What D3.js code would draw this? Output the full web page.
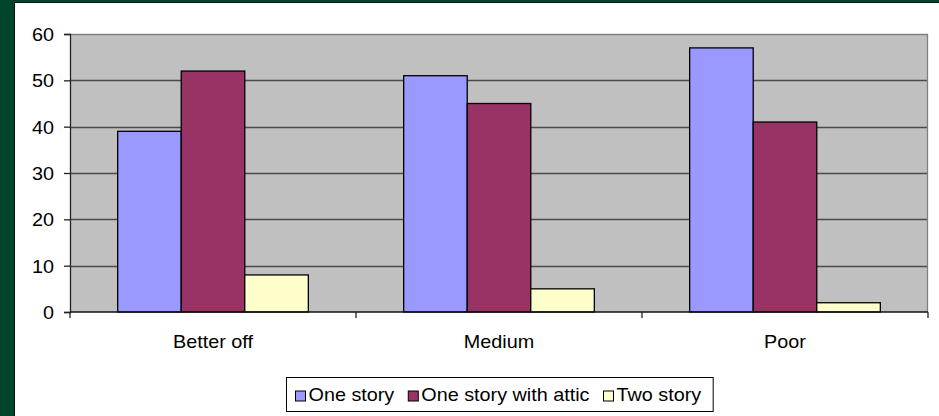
<!DOCTYPE html>
<html>
<head>
<meta charset="utf-8">
<script src="https://cdn.jsdelivr.net/npm/d3@7"></script>
<style>
html, body { margin: 0; padding: 0; background: #00442c; }
svg { display: block; }
text { font-family: "Liberation Sans", Arial, sans-serif; fill: #000; }
</style>
</head>
<body>
<svg id="chart" width="939" height="416"></svg>
<script>
const categories = ["Better off", "Medium", "Poor"];
const seriesNames = ["One story", "One story with attic", "Two story"];
const oneStory = [39, 51, 57];
const oneStoryAttic = [52, 45, 41];
const twoStory = [8, 5, 2];
const yTicks = [0, 10, 20, 30, 40, 50, 60];
const seriesColors = ["#9999ff", "#993366", "#ffffcc"];

const seriesValues = [oneStory, oneStoryAttic, twoStory];
const data = categories.map((c, i) => ({
  category: c,
  values: seriesNames.map((s, j) => ({ series: s, value: seriesValues[j][i] }))
}));

const W = 939, H = 416;
const FS = 18, SX = 1.1;
const plot = { left: 70, right: 928, top: 34, bottom: 312 };

const svg = d3.select("#chart");

// outer green + white card
svg.append("rect").attr("x", 0).attr("y", 0).attr("width", W).attr("height", H).attr("fill", "#00442c");
svg.append("rect").attr("x", 14.5).attr("y", 2.5).attr("width", W).attr("height", H)
  .attr("fill", "#ffffff").attr("stroke", "#001a10").attr("stroke-width", 1);

const x = d3.scaleBand().domain(categories).range([plot.left, plot.right]).paddingInner(0).paddingOuter(0);
const xs = d3.scaleBand().domain(seriesNames).range([0, x.bandwidth()]).paddingInner(0).paddingOuter(0.75);
const y = d3.scaleLinear().domain([0, 60]).range([plot.bottom, plot.top]);
const color = d3.scaleOrdinal().domain(seriesNames).range(seriesColors);

// plot background
svg.append("rect")
  .attr("x", plot.left).attr("y", plot.top)
  .attr("width", plot.right - plot.left).attr("height", plot.bottom - plot.top)
  .attr("fill", "#c0c0c0");

// gridlines
svg.append("g").selectAll("line")
  .data(yTicks.filter(t => t > 0 && t < 60))
  .join("line")
  .attr("x1", plot.left).attr("x2", plot.right)
  .attr("y1", d => Math.round(y(d)) + 0.5).attr("y2", d => Math.round(y(d)) + 0.5)
  .attr("stroke", "#4a4a4a").attr("stroke-width", 1.3);

// plot border top/right
svg.append("path")
  .attr("d", `M${plot.left},${plot.top + 0.5}H${plot.right - 0.5}V${plot.bottom}`)
  .attr("fill", "none").attr("stroke", "#808080").attr("stroke-width", 1.3);

// bars
const groups = svg.append("g").selectAll("g")
  .data(data).join("g")
  .attr("transform", d => `translate(${x(d.category)},0)`);
groups.selectAll("rect")
  .data(d => d.values).join("rect")
  .attr("x", d => xs(d.series))
  .attr("y", d => y(d.value))
  .attr("width", xs.bandwidth())
  .attr("height", d => y(0) - y(d.value))
  .attr("fill", d => color(d.series))
  .attr("stroke", "#000").attr("stroke-width", 1.3);

// y axis
const yAxis = svg.append("g")
  .attr("transform", `translate(${plot.left},0)`)
  .call(d3.axisLeft(y).tickValues(yTicks).tickSize(6).tickFormat(d3.format("d")));
yAxis.select(".domain").attr("stroke", "#222").attr("stroke-width", 1.3);
yAxis.selectAll(".tick line").attr("stroke", "#222").attr("stroke-width", 1.3);
yAxis.selectAll(".tick text")
  .attr("x", -14.5).attr("dy", "0.36em")
  .attr("transform", `scale(${SX},1)`)
  .style("font-size", FS + "px").style("font-family", '"Liberation Sans", Arial, sans-serif').attr("fill", "#000");

// x axis (ticks at category boundaries)
const xg = svg.append("g");
xg.append("line")
  .attr("x1", plot.left).attr("x2", plot.right)
  .attr("y1", y(0)).attr("y2", y(0))
  .attr("stroke", "#111").attr("stroke-width", 1.5);
const boundaries = categories.map(c => x(c)).concat([x(categories[categories.length - 1]) + x.bandwidth()]);
xg.selectAll("line.tick").data(boundaries).join("line")
  .attr("class", "tick")
  .attr("x1", d => d).attr("x2", d => d)
  .attr("y1", y(0)).attr("y2", y(0) + 6)
  .attr("stroke", "#222").attr("stroke-width", 1.3);
xg.selectAll("text").data(categories).join("text")
  .attr("transform", d => `translate(${x(d) + x.bandwidth() / 2},${y(0) + 36}) scale(${SX},1)`)
  .attr("text-anchor", "middle")
  .style("font-size", FS + "px")
  .text(d => d);

// legend
const legend = svg.append("g");
const items = legend.selectAll("g").data(seriesNames).join("g");
items.append("rect")
  .attr("width", 10).attr("height", 10)
  .attr("fill", d => color(d)).attr("stroke", "#000").attr("stroke-width", 1);
items.append("text")
  .attr("transform", `translate(13,10) scale(${SX},1)`)
  .style("font-size", FS + "px")
  .text(d => d);
const padL = 9, padR = 12, gap = 14;
let cx = 0;
const widths = [];
items.each(function () {
  const w = this.querySelector("text").getComputedTextLength() * SX + 13;
  widths.push(w);
});
const total = padL + d3.sum(widths) + gap * (widths.length - 1) + padR;
const boxX = Math.round((plot.left + plot.right) / 2 - total / 2) + 0.5;
const boxY = 377.5, boxH = 34;
legend.insert("rect", ":first-child")
  .attr("x", boxX).attr("y", boxY).attr("width", total).attr("height", boxH)
  .attr("fill", "#fff").attr("stroke", "#000").attr("stroke-width", 1);
cx = boxX + padL;
items.each(function (d, i) {
  d3.select(this).attr("transform", `translate(${cx},${391})`);
  cx += widths[i] + gap;
});
</script>
</body>
</html>
